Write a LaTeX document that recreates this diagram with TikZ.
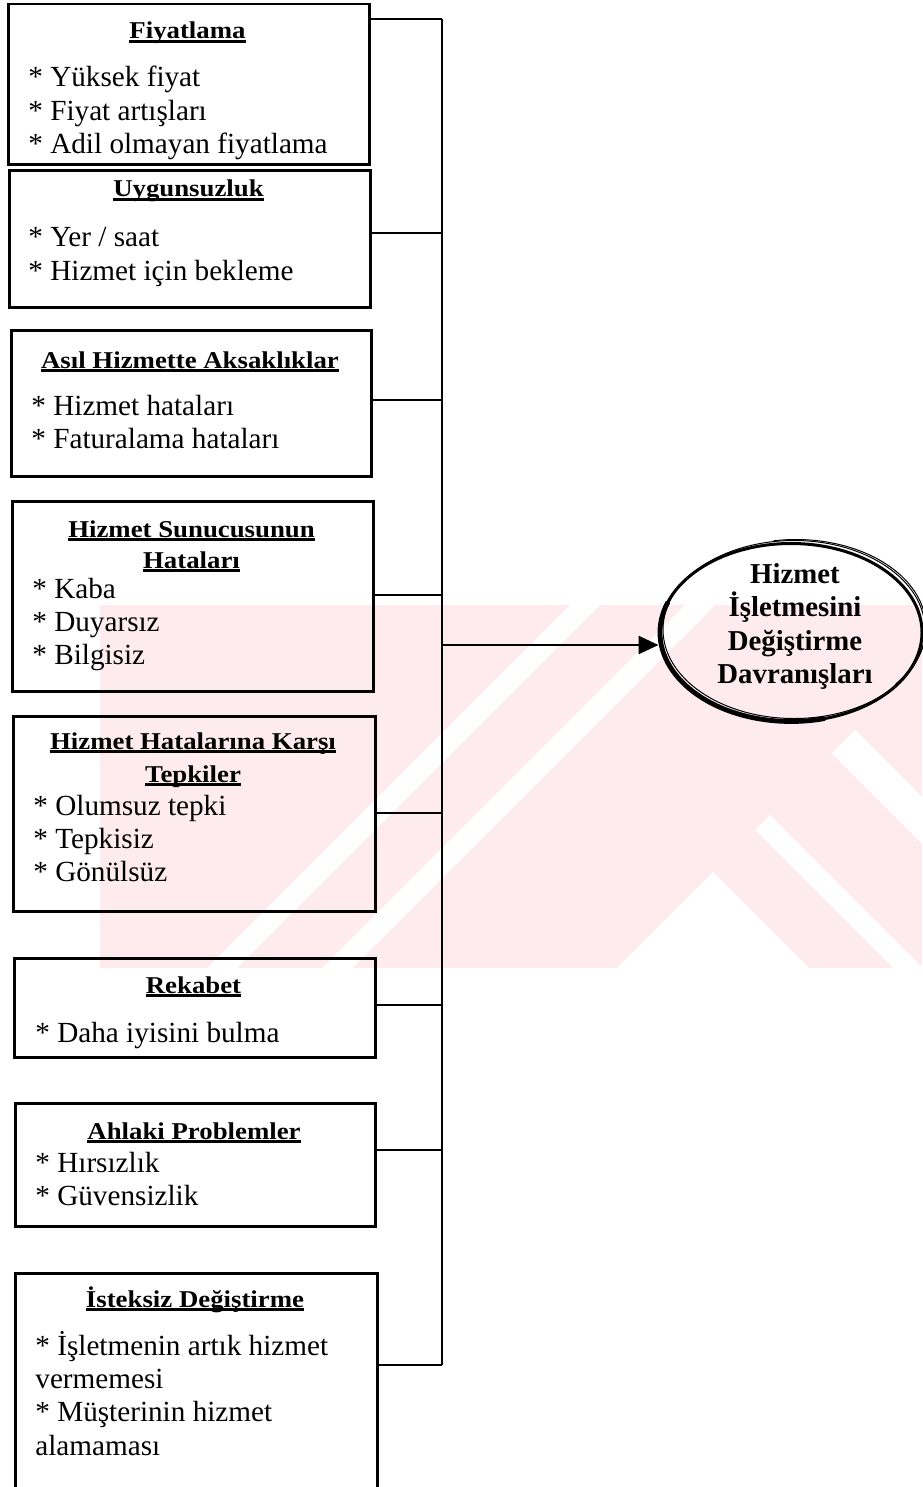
\documentclass[tikz,border=0pt]{standalone}
\usepackage{fontspec}
\usepackage{graphicx}
\setmainfont{Liberation Serif}
\usetikzlibrary{arrows.meta,shapes.geometric}

\definecolor{wmpink}{RGB}{253,235,238}

% bold, slightly squat heading with a tight underline
\newsavebox\ttlbox
\newcommand\ttl[1]{\sbox\ttlbox{\scalebox{1}[0.9]{\bfseries #1}}\usebox\ttlbox\llap{\rule[-1.8pt]{\wd\ttlbox}{1.1pt}}}

\tikzset{
  box/.style={draw, rectangle, line width=1.25pt, inner sep=0pt, anchor=north west},
  ttlnode/.style={anchor=base, inner sep=0pt, font=\fontsize{13.4}{16.7}\selectfont},
  itemnode/.style={anchor=base west, inner sep=0pt, font=\fontsize{14.6}{16.7}\selectfont},
  goaltext/.style={anchor=base, inner sep=0pt, font=\bfseries\fontsize{14.4}{16.75}\selectfont},
  link/.style={line width=1.25pt},
}

\begin{document}
\begin{tikzpicture}[x=0.5pt, y=-0.5pt]
\useasboundingbox (0,0) rectangle (922,1487);

% faint watermark band behind the chart
\begin{scope}
  \clip (100,605) rectangle (922,968);
  \fill[wmpink] (100,605) rectangle (922,968);
  \fill[white] (570,605) -- (600,605) -- (237,968) -- (207,968) -- cycle;
  \fill[white] (685,605) -- (715,605) -- (352,968) -- (322,968) -- cycle;
  \fill[white] (713,872) -- (617,968) -- (809,968) -- cycle;
  \fill[white] (755,830) -- (770,815) -- (923,968) -- (893,968) -- cycle;
  \fill[white] (831.5,753.5) -- (855,730) -- (922,797) -- (922,844) -- cycle;
\end{scope}

% cause boxes
\node[box, minimum width=180.5pt, minimum height=80.25pt] (b1) at (7,3) {};
\node[box, minimum width=180.5pt, minimum height=68.25pt] (b2) at (8,169.5) {};
\node[box, minimum width=180pt,   minimum height=73pt]    (b3) at (10,329) {};
\node[box, minimum width=180.5pt, minimum height=95pt]    (b4) at (11,500) {};
\node[box, minimum width=181pt,   minimum height=97.5pt]  (b5) at (12,715) {};
\node[box, minimum width=180.5pt, minimum height=49.5pt]  (b6) at (13,957) {};
\node[box, minimum width=180pt,   minimum height=61.5pt]  (b7) at (14,1102) {};
\node[box, minimum width=181pt,   minimum height=120pt]   (b8) at (14,1272) {};

% headings
\node[ttlnode] (h1) at (187.5,39) {\ttl{Fiyatlama}};
\node[ttlnode] (h2) at (188.5,197) {\ttl{Uygunsuzluk}};
\node[ttlnode] (h3) at (190,368) {\ttl{Asıl Hizmette Aksaklıklar}};
\node[ttlnode] (h4a) at (191.5,537) {\ttl{Hizmet Sunucusunun}};
\node[ttlnode] (h4b) at (191.5,568) {\ttl{Hataları}};
\node[ttlnode] (h5a) at (193,749) {\ttl{Hizmet Hatalarına Karşı}};
\node[ttlnode] (h5b) at (193,782) {\ttl{Tepkiler}};
\node[ttlnode] (h6) at (193.5,993) {\ttl{Rekabet}};
\node[ttlnode] (h7) at (194,1139) {\ttl{Ahlaki Problemler}};
\node[ttlnode] (h8) at (195,1307) {\ttl{İsteksiz Değiştirme}};

% bullet items
\node[itemnode] (i1) at (28,87) {\parbox[t]{170pt}{\raggedright * Yüksek fiyat\\{}* Fiyat artışları\\{}* Adil olmayan fiyatlama}};
\node[itemnode] (i2) at (28,247) {\parbox[t]{170pt}{\raggedright * Yer / saat\\{}* Hizmet için bekleme}};
\node[itemnode] (i3) at (31,415) {\parbox[t]{170pt}{\raggedright * Hizmet hataları\\{}* Faturalama hataları}};
\node[itemnode] (i4) at (32,598) {\parbox[t]{170pt}{\raggedright * Kaba\\{}* Duyarsız\\{}* Bilgisiz}};
\node[itemnode] (i5) at (33,815) {\parbox[t]{170pt}{\raggedright * Olumsuz tepki\\{}* Tepkisiz\\{}* Gönülsüz}};
\node[itemnode] (i6) at (35,1042) {\parbox[t]{170pt}{\raggedright * Daha iyisini bulma}};
\node[itemnode] (i7) at (35,1172) {\parbox[t]{170pt}{\raggedright * Hırsızlık\\{}* Güvensizlik}};
\node[itemnode] (i8) at (35,1355) {\parbox[t]{170pt}{\raggedright * İşletmenin artık hizmet\\vermemesi\\{}* Müşterinin hizmet\\alamaması}};

% outcome ellipse: heavy rim with a thin offset second rim
\node[ellipse, draw, line width=1.5pt, minimum width=131pt, minimum height=89pt, inner sep=0pt] (goal) at (791,632.5) {};
\draw[line width=0.5pt] ([shift={(3,-3)}]goal.center) ellipse [x radius=65.5pt, y radius=44.5pt];
\draw[line width=0.5pt] ([shift={(5,-5)}]goal.center) ++(-40:65pt and 44pt) arc[start angle=-40, end angle=100, x radius=65pt, y radius=44pt];
\draw[line width=2.4pt] (goal.center) ++(160:65.5pt and 44.5pt) arc[start angle=160, end angle=285, x radius=65.5pt, y radius=44.5pt];
\node[goaltext] (goaltxt) at (795,583) {\parbox[t]{120pt}{\centering Hizmet\\İşletmesini\\Değiştirme\\Davranışları}};

% collecting bus
\coordinate (j1) at (442,19);
\coordinate (j2) at (442,233);
\coordinate (j3) at (442,400);
\coordinate (j4) at (442,595);
\coordinate (j5) at (442,813);
\coordinate (j6) at (442,1005);
\coordinate (j7) at (442,1150);
\coordinate (j8) at (442,1365);
\coordinate (ja) at (442,645);
\draw[link] (j1) -- (j8);
\draw[link] (b1.east |- j1) -- (j1);
\draw[link] (b2.east |- j2) -- (j2);
\draw[link] (b3.east |- j3) -- (j3);
\draw[link] (b4.east |- j4) -- (j4);
\draw[link] (b5.east |- j5) -- (j5);
\draw[link] (b6.east |- j6) -- (j6);
\draw[link] (b7.east |- j7) -- (j7);
\draw[link] (b8.east |- j8) -- (j8);
\draw[link, -{Triangle[length=10pt, width=9pt]}] (ja) -- (ja -| goal.west);
\end{tikzpicture}
\end{document}
